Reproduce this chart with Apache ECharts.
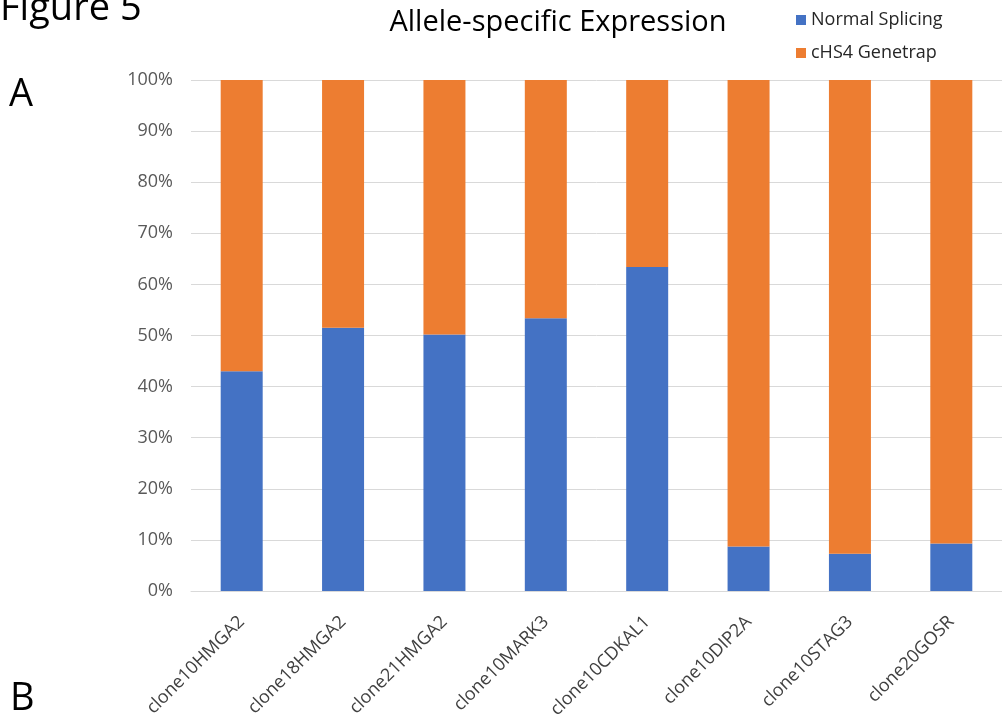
<!DOCTYPE html>
<html>
<head>
<meta charset="utf-8">
<script src="https://cdn.jsdelivr.net/npm/echarts@6/dist/echarts.min.js"></script>
<style>html,body{margin:0;padding:0;background:#fff}#c{width:1002px;height:721px}</style>
</head>
<body>
<div id="c"></div>
<script>
var categories = ['clone10HMGA2','clone18HMGA2','clone21HMGA2','clone10MARK3','clone10CDKAL1','clone10DIP2A','clone10STAG3','clone20GOSR'];
var normalSplicing = [43.0, 51.5, 50.2, 53.4, 63.4, 8.7, 7.3, 9.3];
var genetrap = normalSplicing.map(function(v){ return +(100 - v).toFixed(1); });
var yTicks = [0,10,20,30,40,50,60,70,80,90,100];

var chart = echarts.init(document.getElementById('c'));
var font = '"Open Sans", "Noto Sans", sans-serif';
chart.setOption({
  animation: false,
  textStyle: { fontFamily: font },
  title: {
    text: 'Allele-specific Expression',
    left: 553, top: 3, textAlign: 'center',
    textStyle: { fontSize: 29, fontWeight: 'normal', color: '#000', fontFamily: font }
  },
  legend: {
    orient: 'vertical', left: 791, top: 6,
    itemWidth: 10, itemHeight: 10, itemGap: 15,
    icon: 'rect',
    textStyle: { fontSize: 18, color: '#262626', fontFamily: font },
    data: ['Normal Splicing', 'cHS4 Genetrap']
  },
  graphic: [
    { type: 'text', left: 0, top: -10, style: { text: 'Figure 5', fontSize: 38, fill: '#000', fontFamily: font } },
    { type: 'text', left: 9, top: 76, style: { text: 'A', fontSize: 38, fill: '#000', fontFamily: font } },
    { type: 'text', left: 10, top: 680, style: { text: 'B', fontSize: 38, fill: '#000', fontFamily: font } }
  ],
  grid: { left: 191, right: 0, top: 80, bottom: 129, containLabel: false },
  xAxis: {
    type: 'category', data: categories,
    axisLine: { lineStyle: { color: '#d9d9d9', width: 1 } },
    axisTick: { show: false },
    axisLabel: { rotate: 45, interval: 0, margin: 28, color: '#404040', fontSize: 18, fontFamily: font }
  },
  yAxis: {
    type: 'value', min: 0, max: 100, interval: 10,
    axisLine: { show: false }, axisTick: { show: false },
    splitLine: { lineStyle: { color: '#d9d9d9', width: 1 } },
    axisLabel: { margin: 18, color: '#595959', fontSize: 18, fontFamily: font,
      formatter: function(v){ return yTicks.indexOf(v) >= 0 ? v + '%' : ''; } }
  },
  series: [
    { name: 'Normal Splicing', type: 'bar', stack: 't', data: normalSplicing, barWidth: 42,
      itemStyle: { color: '#4472C4' } },
    { name: 'cHS4 Genetrap', type: 'bar', stack: 't', data: genetrap, barWidth: 42,
      itemStyle: { color: '#ED7D31' } }
  ]
});
</script>
</body>
</html>
